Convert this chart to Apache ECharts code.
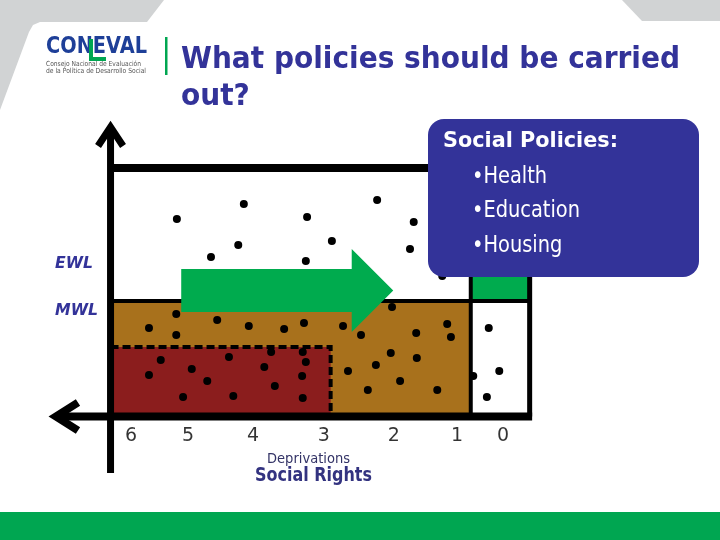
<!DOCTYPE html>
<html><head><meta charset="utf-8">
<script src="https://cdn.jsdelivr.net/npm/echarts@6/dist/echarts.min.js"></script>
<style>html,body{margin:0;padding:0;background:#fff}#c{width:720px;height:540px}</style>
</head><body><div id="c"></div>
<script>
// ---- axis tick labels (deprivations) ----
const tickLabels = ['6', '5', '4', '3', '2', '1', '0'];
const tickPositions = [6, 5.08, 4.03, 2.89, 1.76, 0.74, 0];

// ---- thresholds: [deprivations, income] ----
const lineNames = ['EWL', 'MWL'];
const lineIncome = [2.88, 2.24];          // economic / minimum welfare lines
const extremeLimit = [2.78, 1.32];        // extreme poverty box: deprivation, income
const noDeprivationLimit = 0.52;          // divider between deprived / not deprived
const frame = [6.33, -0.43, 4.9, -0.07];  // axis x, box right, box top, axis y
const arrowSpan = [5.19, 2.44, 1.77];     // policy arrow: start, head base, tip
const arrowIncome = [2.02, 2.88, 1.62, 3.28];

// ---- households: [deprivations, income] ----
const pointsAboveEWL = [[5.26,3.88],[4.18,4.18],[3.16,3.92],[2.03,4.26],[1.44,3.82],[4.27,3.36],[2.76,3.44],[1.50,3.28],[4.71,3.12],[3.18,3.04],[0.98,2.74]];
const pointsModerate = [[5.27,1.98],[5.71,1.70],[5.27,1.56],[4.61,1.86],[4.10,1.74],[3.53,1.68],[3.21,1.80],[1.79,2.12],[2.58,1.74],[2.29,1.56],[1.40,1.60],[0.90,1.78],[0.84,1.52],[2.50,0.84],[2.05,0.96],[1.81,1.20],[1.39,1.10],[1.66,0.64],[2.18,0.46],[1.06,0.46]];
const pointsExtreme = [[5.52,1.06],[5.71,0.76],[5.02,0.88],[4.42,1.12],[4.77,0.64],[5.16,0.32],[4.35,0.34],[3.74,1.22],[3.85,0.92],[3.68,0.54],[3.23,1.22],[3.18,1.02],[3.24,0.74],[3.23,0.30]];
const pointsNotPoor = [[0.23,1.70],[0.48,0.74],[0.06,0.84],[0.26,0.32]];

const policies = ['Social Policies:', '\u2022Health', '\u2022Education', '\u2022Housing'];

// ---- text fitting helper ----
const mctx = document.createElement('canvas').getContext('2d');
function fit(text, font, width) { mctx.font = font; return width / mctx.measureText(text).width; }

const NAVY = '#333399';
const BROWN = '#A8711C';
const RED = '#8B1D1D';
const GREEN = '#00AB4E';

function txt(text, x, y, font, fill, scaleX, z) {
  return { type: 'text', x: x, y: y, scaleX: scaleX, scaleY: 1, z: z || 10,
    style: { text: text, font: font, fill: fill, align: 'left', verticalAlign: 'middle' } };
}

const titleFont = 'bold 31px "DejaVu Sans"';
const titleScale = fit('What policies should be carried', titleFont, 499);
const logoFont = 'bold 23px "DejaVu Sans"';
const smallFont = '7px "DejaVu Sans"';
const headFont = 'bold 21px "DejaVu Sans"';
const bulletFont = '23px "DejaVu Sans"';
const bulletScale = fit(policies[2], bulletFont, 108);
const lblFont = 'italic bold 15px "DejaVu Sans"';

function renderFrame(params, api) {
  const P = (d, v) => api.coord([d, v]);
  const [ax, bx, btop, ay] = frame;
  const mwl = lineIncome[1];
  const [exD, exI] = extremeLimit;
  const rect = (a, b, fill) => ({ type: 'rect', shape: { x: Math.min(a[0], b[0]), y: Math.min(a[1], b[1]), width: Math.abs(b[0] - a[0]), height: Math.abs(b[1] - a[1]) }, style: { fill: fill } });
  const seg = (a, b, lw) => ({ type: 'line', shape: { x1: a[0], y1: a[1], x2: b[0], y2: b[1] }, style: { stroke: '#000', lineWidth: lw } });
  const yTip = P(ax, 5.72), xTip = P(7.21, ay);
  const [aS, aH, aT] = arrowSpan;
  const [bLo, bHi, hLo, hHi] = arrowIncome;
  const tipIncome = (hLo + hHi) / 2;
  return { type: 'group', children: [
    rect(P(ax, mwl), P(noDeprivationLimit, ay), BROWN),
    rect(P(ax, exI), P(exD, ay), RED),
    rect(P(noDeprivationLimit, 3.2), P(bx, mwl), GREEN),
    { type: 'polyline', shape: { points: [P(ax, exI), P(exD, exI), P(exD, ay)] }, style: { stroke: '#000', lineWidth: 4, fill: null, lineDash: [8, 4] } },
    seg(P(ax, mwl), P(bx, mwl), 4),
    seg(P(noDeprivationLimit, 3.2), P(noDeprivationLimit, ay), 4),
    seg(P(ax, btop), P(bx - 0.02, btop), 8),
    seg(P(bx, btop), P(bx, ay), 5),
    seg(P(-0.47, ay), xTip, 8),
    { type: 'polyline', shape: { points: [[xTip[0] + 22, xTip[1] - 14], xTip, [xTip[0] + 22, xTip[1] + 14]] }, style: { stroke: '#000', lineWidth: 8, fill: null, lineJoin: 'miter' } },
    seg(P(ax, -1.2), yTip, 7),
    { type: 'polyline', shape: { points: [[yTip[0] - 12.5, yTip[1] + 19], yTip, [yTip[0] + 12.5, yTip[1] + 19]] }, style: { stroke: '#000', lineWidth: 7, fill: null, lineJoin: 'miter' } },
    { type: 'polygon', shape: { points: [P(aS, bHi), P(aH, bHi), P(aH, hHi), P(aT, tipIncome), P(aH, hLo), P(aH, bLo), P(aS, bLo)] }, style: { fill: GREEN } }
  ] };
}

const chart = echarts.init(document.getElementById('c'), null, { renderer: 'canvas' });
const dotSeries = (name, data) => ({ name: name, type: 'scatter', data: data, symbolSize: 8, itemStyle: { color: '#000', opacity: 1 }, z: 5, silent: true });

// tick labels drawn at their positions along the deprivation scale, just below the axis
const tickLabelIncome = -0.47;
const tickSeries = {
  type: 'scatter', silent: true, z: 6, symbolSize: 2, itemStyle: { color: 'rgba(255,255,255,0)' },
  data: tickPositions.map((p, i) => ({ value: [p, tickLabelIncome], name: tickLabels[i] })),
  label: { show: true, position: 'inside', formatter: '{b}', fontSize: 19, color: '#000', fontFamily: 'DejaVu Sans' }
};

chart.setOption({
  animation: false,
  backgroundColor: '#fff',
  grid: { left: 38, right: 186, top: 113, bottom: 62, containLabel: false, outerBoundsMode: 'none' },
  xAxis: {
    type: 'value', inverse: true, min: -0.5, max: 7.5,
    axisLine: { show: false }, axisTick: { show: false }, splitLine: { show: false }, axisLabel: { show: false }
  },
  yAxis: {
    type: 'value', min: -1.3, max: 6,
    axisLine: { show: false }, axisTick: { show: false }, axisLabel: { show: false }, splitLine: { show: false }
  },
  series: [
    { type: 'custom', data: [[0, 0]], renderItem: renderFrame, z: 1, silent: true },
    dotSeries('above EWL', pointsAboveEWL),
    dotSeries('moderate', pointsModerate),
    dotSeries('extreme', pointsExtreme),
    dotSeries('not poor', pointsNotPoor),
    tickSeries
  ],
  graphic: { elements: [
    { type: 'polygon', z: 0, shape: { points: [[0,0],[164,0],[147,22],[40,22],[33,25],[29,32],[0,110]] }, style: { fill: '#D1D3D4' } },
    { type: 'polygon', z: 0, shape: { points: [[622,0],[720,0],[720,21],[642,21]] }, style: { fill: '#D1D3D4' } },
    { type: 'rect', z: 0, shape: { x: 0, y: 512, width: 720, height: 28 }, style: { fill: '#00A651' } },
    txt('CONEVAL', 46, 47, logoFont, '#1E3F98', fit('CONEVAL', logoFont, 101)),
    { type: 'polyline', z: 11, shape: { points: [[91, 39], [91, 59], [106, 59]] }, style: { stroke: '#00A651', lineWidth: 4, fill: null } },
    txt('Consejo Nacional de Evaluación', 46, 64, smallFont, '#555', fit('Consejo Nacional de Evaluación', smallFont, 95)),
    txt('de la Política de Desarrollo Social', 46, 71.5, smallFont, '#555', fit('de la Política de Desarrollo Social', smallFont, 100)),
    { type: 'rect', z: 0, shape: { x: 165, y: 37, width: 2.5, height: 38 }, style: { fill: '#00A651' } },
    txt('What policies should be carried', 181, 60, titleFont, NAVY, titleScale),
    txt('out?', 181, 97, titleFont, NAVY, titleScale),
    { type: 'rect', z: 100, shape: { x: 428, y: 119, width: 271, height: 158, r: 16 }, style: { fill: NAVY } },
    txt(policies[0], 443, 141.5, headFont, '#fff', fit(policies[0], headFont, 175), 101),
    txt(policies[1], 472, 177, bulletFont, '#fff', bulletScale, 101),
    txt(policies[2], 472, 211, bulletFont, '#fff', bulletScale, 101),
    txt(policies[3], 472, 246, bulletFont, '#fff', bulletScale, 101),
    txt(lineNames[0], 55, 264.5, lblFont, NAVY, fit(lineNames[0], lblFont, 38)),
    txt(lineNames[1], 55, 311, lblFont, NAVY, fit(lineNames[1], lblFont, 43)),
    txt('Deprivations', 267, 459, '14px "DejaVu Sans"', '#333366', fit('Deprivations', '14px "DejaVu Sans"', 83)),
    txt('Social Rights', 255, 476, 'bold 19px "DejaVu Sans"', '#333380', fit('Social Rights', 'bold 19px "DejaVu Sans"', 117))
  ] }
});
</script>
</body></html>
